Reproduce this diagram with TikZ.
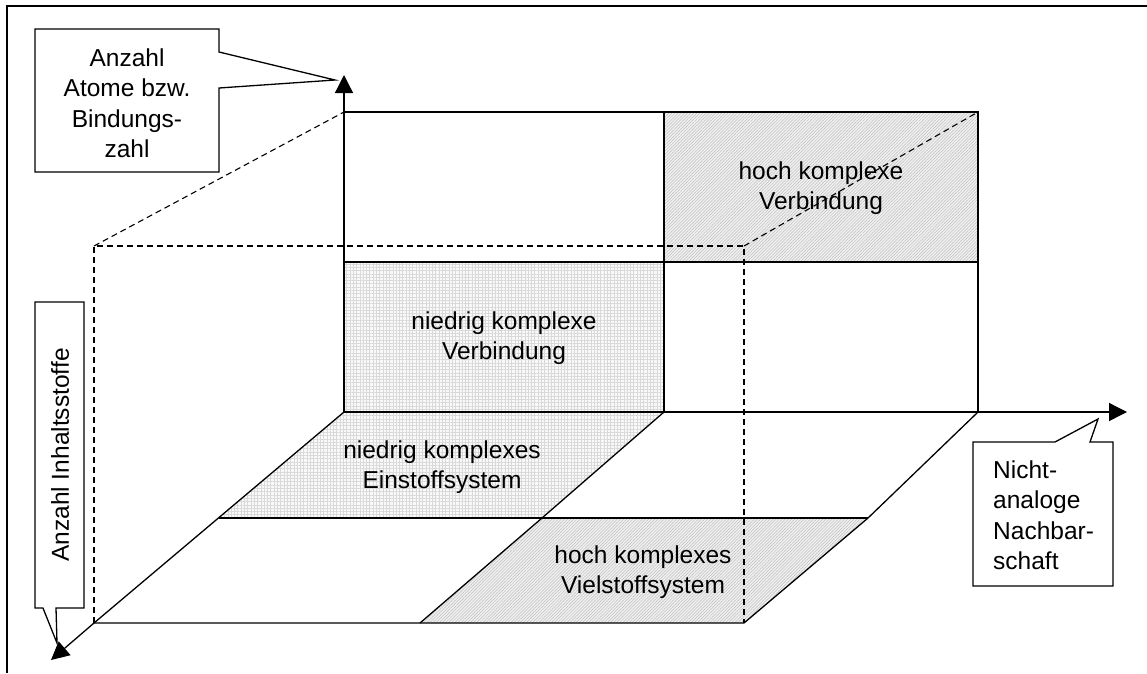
\documentclass[tikz,border=0pt]{standalone}
\usepackage{fontspec}
\setmainfont{Liberation Sans}
\usetikzlibrary{arrows.meta,patterns.meta}
\tikzset{
  ln/.style={line width=1.3pt, line join=miter},
  dsh/.style={line width=1.1pt, dash pattern=on 6pt off 4pt},
  axis/.style={ln, -{Triangle[length=18pt,width=18pt]}},
  gridfill/.style={fill=gray!5, postaction={pattern={Hatch[distance=3.3pt,line width=0.3pt]}, pattern color=gray!30}},
  hatchfill/.style={fill=gray!12, postaction={pattern={Lines[angle=45,distance=2.2pt,line width=0.5pt]}, pattern color=gray!50}},
  lbl/.style={align=center, inner sep=0pt, font=\fontsize{24.5}{30.5}\selectfont},
  callout/.style={ln, fill=white}
}
\begin{document}
\begin{tikzpicture}[x=1pt,y=-1pt]
\useasboundingbox (0,0) rectangle (1147,673);
% frame
\draw[line width=1.8pt] (7,673) -- (7,6) -- (1147,6);
% key coordinates
\coordinate (O) at (344,412);
\coordinate (BR) at (978,412);
\coordinate (BM) at (664,412);
\coordinate (TL) at (344,112);
\coordinate (TR) at (978,112);
\coordinate (TM) at (664,112);
\coordinate (ML) at (344,262);
\coordinate (MM) at (664,262);
\coordinate (MR) at (978,262);
\coordinate (FL) at (94,623);
\coordinate (FR) at (744,623);
\coordinate (FM) at (420,623);
\coordinate (CL) at (219,518);
\coordinate (CM) at (542,518);
\coordinate (CR) at (868,518);
\coordinate (DL) at (94,246);
\coordinate (DR) at (744,246);
\coordinate (Ytip) at (344,75);
\coordinate (Xtip) at (1127,412);
\coordinate (Ztip) at (51,660);
% shaded regions
\fill[gridfill] (ML) rectangle (BM);
\fill[hatchfill] (TM) rectangle (MR);
\fill[gridfill] (O) -- (BM) -- (CM) -- (CL) -- cycle;
\fill[hatchfill] (CM) -- (CR) -- (FR) -- (FM) -- cycle;
% back wall
\draw[ln] (TL) rectangle (BR);
\draw[ln] (TM) -- (BM);
\draw[ln] (ML) -- (MR);
% floor
\draw[ln] (BR) -- (CR) -- (FR) -- (FL);
\draw[ln] (CL) -- (CR);
\draw[ln] (BM) -- (CM) -- (FM);
% axes
\draw[axis] (O) -- (Ytip);
\draw[axis] (O) -- (Xtip);
\draw[axis] (O) -- (FL) -- (Ztip);
% dashed cube
\draw[dsh] (FL) -- (DL) -- (DR) -- (FR);
\draw[dsh] (DL) -- (TL);
\draw[dsh] (DR) -- (TR);
% region labels
\node[lbl] (hkv) at (821,188) {hoch komplexe\\Verbindung};
\node[lbl] (nkv) at (504,338) {niedrig komplexe\\Verbindung};
\node[lbl] (nke) at (442,467) {niedrig komplexes\\Einstoffsystem};
\node[lbl] (hkvs) at (643,572) {hoch komplexes\\Vielstoffsystem};
% callout 1
\draw[callout] (35,29) -- (219,29) -- (219,52) -- (335,80) -- (219,88) -- (219,172) -- (35,172) -- cycle;
\node[lbl] (c1) at (127,103) {Anzahl\\Atome bzw.\\Bindungs-\\zahl};
% callout 2
\draw[callout] (35,302) -- (84,302) -- (84,608) -- (56,608) -- (57,643) -- (43,608) -- (35,608) -- cycle;
\node[lbl, rotate=90] (c2) at (60,455) {Anzahl Inhaltsstoffe};
% callout 3
\draw[callout] (973,442) -- (1055,442) -- (1098,419) -- (1090,442) -- (1113,442) -- (1113,586) -- (973,586) -- cycle;
\node[lbl, align=left, anchor=west] (c3) at (993,515) {Nicht-\\analoge\\Nachbar-\\schaft};
\end{tikzpicture}
\end{document}
